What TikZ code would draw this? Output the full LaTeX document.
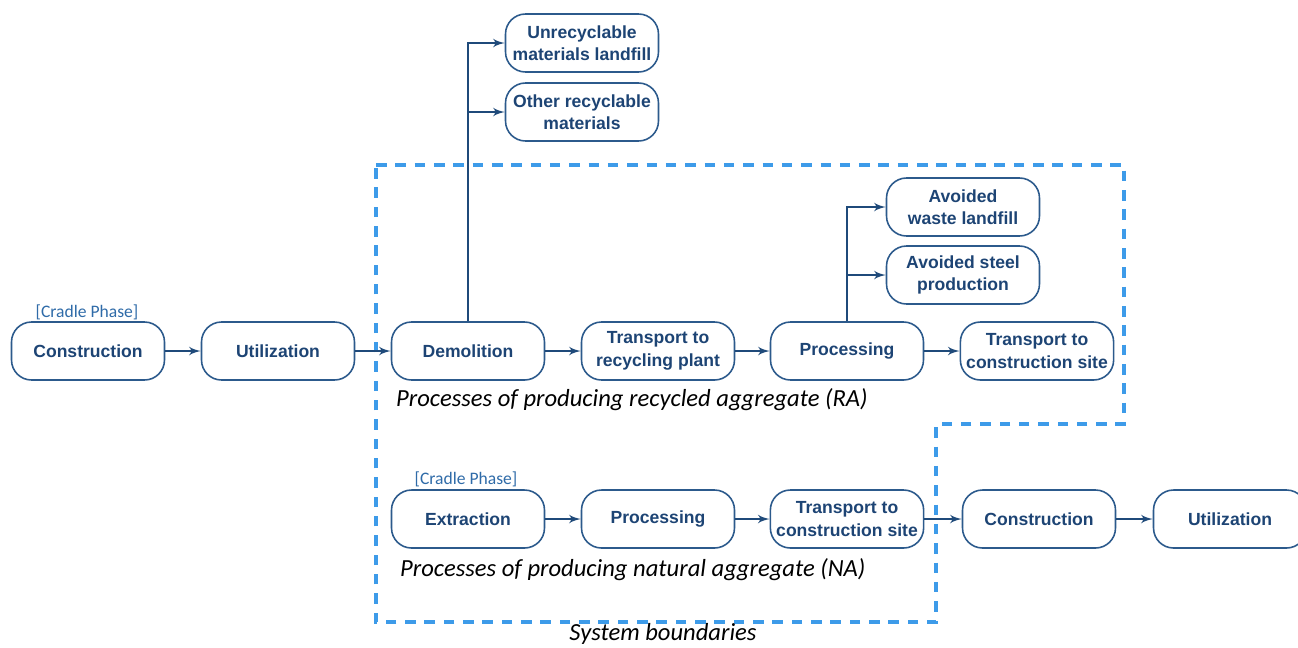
\documentclass[tikz,border=0pt]{standalone}
\usepackage{fontspec}
\setmainfont{Liberation Sans}
\newfontfamily\notefont{Carlito}
\usetikzlibrary{arrows}
\definecolor{mynavy}{HTML}{1D4474}
\definecolor{myedge}{HTML}{2C5A8C}
\definecolor{myline}{HTML}{1F4A7A}
\definecolor{mysky}{HTML}{3D9BE9}
\definecolor{mycradle}{HTML}{2F6BA8}

\begin{document}
\begin{tikzpicture}[>=latex', x=0.02cm, y=-0.02cm,
    proc/.style={draw=myedge, line width=0.9pt, rounded corners=0.4cm,
      minimum width=3.06cm, minimum height=1.16cm, align=center,
      text=mynavy, font=\fontsize{10}{12.8}\selectfont\bfseries},
    flow/.style={->, myline, line width=1.3pt},
    cradle/.style={text=mycradle, font=\notefont\fontsize{10}{12}\selectfont},
    caption/.style={font=\notefont\itshape\fontsize{14}{16}\selectfont}]

      \useasboundingbox (0,0) rectangle (1298,647);

      \pgfmathsetmacro{\wasteY}{43}
      \pgfmathsetmacro{\otherY}{112}
      \pgfmathsetmacro{\avoidY}{207}
      \pgfmathsetmacro{\steelY}{275}
      \pgfmathsetmacro{\raY}{351}
      \pgfmathsetmacro{\naY}{519}

      % system boundaries
      \draw [mysky, line width=2.2pt, dash pattern=on 6pt off 5pt]
        (376,165) -- (1124,165) -- (1124,424) -- (936,424)
        -- (936,622) -- (376,622) -- cycle;
      \node [caption, name=sys] at (663,634) {System boundaries};

      % recycled aggregate
      \node [proc, name=con1] at (88, \raY) {Construction};
      \node [proc, name=use1] at (278, \raY) {Utilization};
      \node [proc, name=demo] at (468, \raY) {Demolition};
      \node [proc, name=trp1] at (658, \raY) {Transport to\\recycling plant};
      \node [proc, name=prc1] at (847, \raY) {Processing};
      \node [proc, name=trs1] at (1037, \raY) {Transport to\\construction site};
      \node [cradle, name=cr1] at (87, 312) {[Cradle Phase]};
      \node [caption, anchor=west, name=ra] at (390, 400)
        {Processes of producing recycled aggregate (RA)};

      % by-products
      \node [proc, name=unrec] at (582, \wasteY) {Unrecyclable\\materials landfill};
      \node [proc, name=other] at (582, \otherY) {Other recyclable\\materials};
      \node [proc, name=avw] at (963, \avoidY) {Avoided\\waste landfill};
      \node [proc, name=avs] at (963, \steelY) {Avoided steel\\production};

      % natural aggregate
      \node [proc, name=ext] at (468, \naY) {Extraction};
      \node [proc, name=prc2] at (658, \naY) {Processing};
      \node [proc, name=trs2] at (847, \naY) {Transport to\\construction site};
      \node [proc, name=con2] at (1039, \naY) {Construction};
      \node [proc, name=use2] at (1230, \naY) {Utilization};
      \node [cradle, name=cr2] at (466, 479) {[Cradle Phase]};
      \node [caption, anchor=west, name=na] at (394, 570)
        {Processes of producing natural aggregate (NA)};

      \draw [flow] (con1) -- (use1);
      \draw [flow] (use1) -- (demo);
      \draw [flow] (demo) -- (trp1);
      \draw [flow] (trp1) -- (prc1);
      \draw [flow] (prc1) -- (trs1);

      \draw [flow] (demo.north) |- (unrec.west);
      \draw [flow] (demo.north) |- (other.west);
      \draw [flow] (prc1.north) |- (avw.west);
      \draw [flow] (prc1.north) |- (avs.west);

      \draw [flow] (ext) -- (prc2);
      \draw [flow] (prc2) -- (trs2);
      \draw [flow] (trs2) -- (con2);
      \draw [flow] (con2) -- (use2);

\end{tikzpicture}
\end{document}
